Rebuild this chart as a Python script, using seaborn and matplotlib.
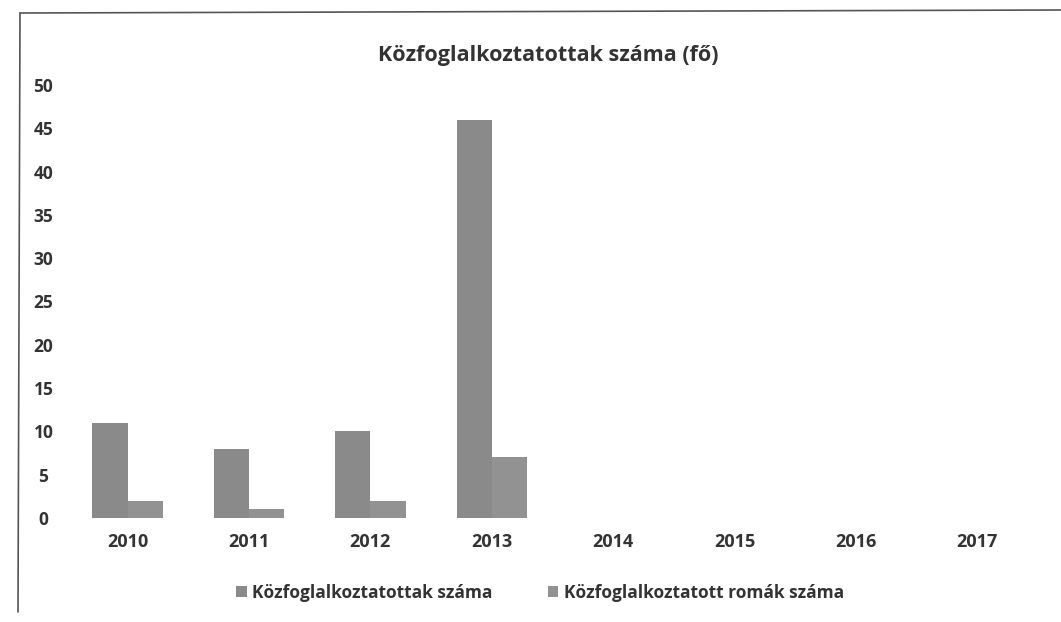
import matplotlib
matplotlib.use("Agg")
import matplotlib.pyplot as plt
import seaborn as sns
import pandas as pd
from matplotlib.lines import Line2D

years = ["2010", "2011", "2012", "2013", "2014", "2015", "2016", "2017"]
kozfog = [11, 8, 10, 46, 0, 0, 0, 0]
romak = [2, 1, 2, 7, 0, 0, 0, 0]
series_names = ["Közfoglalkoztatottak száma", "Közfoglalkoztatott romák száma"]
title = "Közfoglalkoztatottak száma (fő)"

df = pd.DataFrame({
    "year": years * 2,
    "value": kozfog + romak,
    "series": [series_names[0]] * len(years) + [series_names[1]] * len(years),
})

sns.set_theme(style="white")
plt.rcParams["font.family"] = ["Open Sans", "DejaVu Sans"]
txt = "#333333"

W, H = 1061, 622
fig = plt.figure(figsize=(W / 100, H / 100), dpi=100)
ax = fig.add_axes([67 / W, 1 - 518 / H, 971 / W, (518 - 85) / H])

sns.barplot(data=df, x="year", y="value", hue="series", order=years,
            hue_order=series_names, palette=["#8a8a8a", "#929292"],
            width=0.58, ax=ax, saturation=1, linewidth=0, legend=True)

ax.set_ylim(0, 50)
ax.set_xlim(-0.5, 7.5)
ax.set_yticks(range(0, 51, 5))
ax.set_xlabel("")
ax.set_ylabel("")
for s in ax.spines.values():
    s.set_visible(False)
ax.tick_params(axis="y", length=0, pad=17, labelsize=12.5, labelcolor=txt)
ax.tick_params(axis="x", length=0, pad=11, labelsize=13, labelcolor=txt)
for lab in ax.get_xticklabels() + ax.get_yticklabels():
    lab.set_fontweight("bold")
for lab in ax.get_yticklabels():
    lab.set_horizontalalignment("center")

fig.text(548 / W, 1 - 56 / H, title, ha="center", va="center",
         fontsize=15.5, fontweight="bold", color=txt)

leg = ax.legend(loc="center", bbox_to_anchor=(540 / W, 1 - 593 / H),
                bbox_transform=fig.transFigure, ncol=2, frameon=False,
                handlelength=0.6, handleheight=0.6, handletextpad=0.3,
                columnspacing=3.2, fontsize=12.5)
for t in leg.get_texts():
    t.set_fontweight("bold")
    t.set_color(txt)

# scanned page frame lines
fig.add_artist(Line2D([20 / W, 1.0], [1 - 13 / H, 1 - 10 / H],
                      transform=fig.transFigure, color="#555555", lw=1.2))
fig.add_artist(Line2D([20 / W, 18 / W], [1 - 13 / H, 1 - 612 / H],
                      transform=fig.transFigure, color="#555555", lw=1.2))

fig.savefig("out.png", dpi=100)
